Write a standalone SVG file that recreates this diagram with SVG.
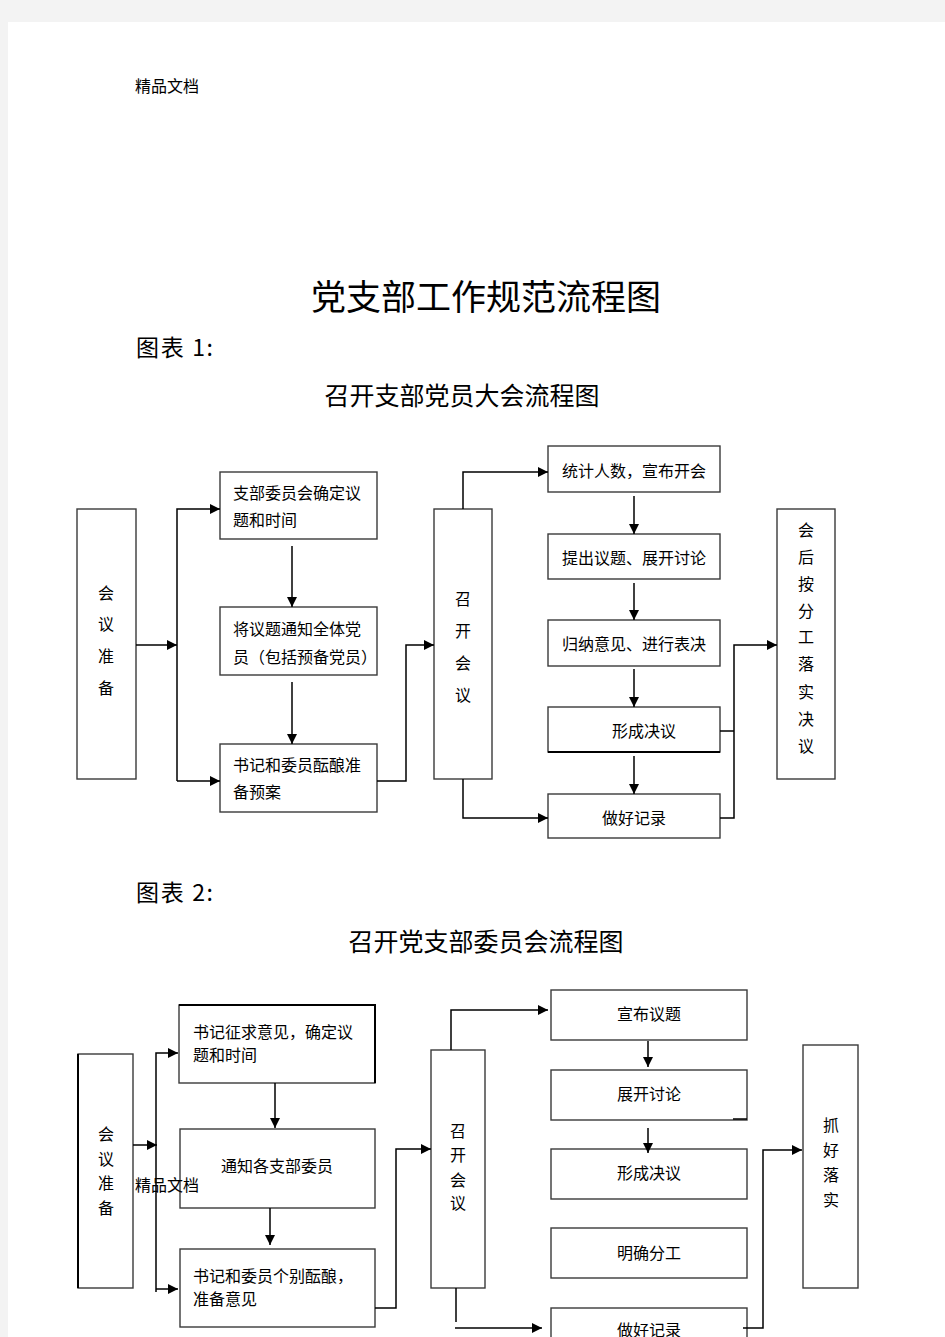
<svg xmlns="http://www.w3.org/2000/svg" width="945" height="1337" viewBox="0 0 945 1337">
<defs>
<style>
.bx{fill:#fff;stroke:#3a3a3a;stroke-width:1.4}
.t{font-family:"Noto Sans CJK SC","Noto Sans CJK JP",sans-serif;font-size:16px;fill:#000}
.c{text-anchor:middle}
.h{font-family:"Noto Sans CJK SC",serif;fill:#000}
.ln{fill:none;stroke:#000;stroke-width:1.5}
</style>
<marker id="ar" markerUnits="userSpaceOnUse" markerWidth="11" markerHeight="10" refX="10" refY="5" orient="auto">
<path d="M0,0 L10,5 L0,10 z" fill="#000"/>
</marker>
</defs>
<rect x="0" y="0" width="945" height="1337" fill="#f3f3f3"/>
<rect x="8" y="22" width="937" height="1315" fill="#fff"/>

<text class="t" x="135" y="92">精品文档</text>
<text class="h" x="486" y="310" font-size="35" text-anchor="middle">党支部工作规范流程图</text>
<text class="h" x="136" y="356" font-size="23" textLength="77" lengthAdjust="spacing">图表 1:</text>
<text class="h" x="462" y="405" font-size="25" text-anchor="middle">召开支部党员大会流程图</text>
<text class="h" x="136" y="901" font-size="23" textLength="77" lengthAdjust="spacing">图表 2:</text>
<text class="h" x="486" y="951" font-size="25" text-anchor="middle">召开党支部委员会流程图</text>

<!-- Diagram 1 nodes -->
<g id="d1-prep"><rect class="bx" x="77" y="509" width="59" height="270"/>
<text class="t c" x="106" y="599">会</text><text class="t c" x="106" y="630">议</text><text class="t c" x="106" y="662">准</text><text class="t c" x="106" y="694">备</text></g>
<g id="d1-a"><rect class="bx" x="220" y="472" width="157" height="67"/>
<text class="t" x="233" y="499">支部委员会确定议</text><text class="t" x="233" y="526">题和时间</text></g>
<g id="d1-b"><rect class="bx" x="220" y="607" width="157" height="68"/>
<text class="t" x="233" y="635">将议题通知全体党</text><text class="t" x="233" y="663">员（包括预备党员）</text></g>
<g id="d1-c"><rect class="bx" x="220" y="744" width="157" height="68"/>
<text class="t" x="233" y="771">书记和委员酝酿准</text><text class="t" x="233" y="798">备预案</text></g>
<g id="d1-hold"><rect class="bx" x="434" y="509" width="58" height="270"/>
<text class="t c" x="463" y="605">召</text><text class="t c" x="463" y="637">开</text><text class="t c" x="463" y="669">会</text><text class="t c" x="463" y="701">议</text></g>
<g id="d1-s1"><rect class="bx" x="548" y="446" width="172" height="46"/><text class="t c" x="634" y="477">统计人数，宣布开会</text></g>
<g id="d1-s2"><rect class="bx" x="548" y="534" width="172" height="45"/><text class="t c" x="634" y="564">提出议题、展开讨论</text></g>
<g id="d1-s3"><rect class="bx" x="548" y="620" width="172" height="46"/><text class="t c" x="634" y="650">归纳意见、进行表决</text></g>
<g id="d1-s4"><rect class="bx" x="548" y="707" width="172" height="45"/><line x1="548" y1="752" x2="720" y2="752" stroke="#000" stroke-width="2"/><text class="t c" x="644" y="737">形成决议</text></g>
<g id="d1-s5"><rect class="bx" x="548" y="794" width="172" height="44"/><text class="t c" x="634" y="824">做好记录</text></g>
<g id="d1-after"><rect class="bx" x="777" y="509" width="58" height="270"/>
<text class="t c" x="806" y="536">会</text><text class="t c" x="806" y="563">后</text><text class="t c" x="806" y="590">按</text><text class="t c" x="806" y="617">分</text><text class="t c" x="806" y="643">工</text><text class="t c" x="806" y="670">落</text><text class="t c" x="806" y="698">实</text><text class="t c" x="806" y="725">决</text><text class="t c" x="806" y="752">议</text></g>

<!-- Diagram 2 nodes -->
<g id="d2-prep"><rect class="bx" x="78" y="1054" width="55" height="234"/><line x1="78" y1="1054" x2="78" y2="1288" stroke="#000" stroke-width="2"/>
<text class="t c" x="106" y="1140">会</text><text class="t c" x="106" y="1165">议</text><text class="t c" x="106" y="1189">准</text><text class="t c" x="106" y="1214">备</text></g>
<g id="d2-a"><rect class="bx" x="179" y="1005" width="196" height="78"/><path d="M179,1005 H375 V1083" fill="none" stroke="#000" stroke-width="2"/>
<text class="t" x="193" y="1038">书记征求意见，确定议</text><text class="t" x="193" y="1061">题和时间</text></g>
<g id="d2-b"><rect class="bx" x="180" y="1129" width="195" height="79"/><text class="t c" x="277" y="1172">通知各支部委员</text></g>
<g id="d2-c"><rect class="bx" x="180" y="1249" width="195" height="78"/>
<text class="t" x="193" y="1282">书记和委员个别酝酿，</text><text class="t" x="193" y="1305">准备意见</text></g>
<g id="d2-hold"><rect class="bx" x="431" y="1050" width="54" height="238"/>
<text class="t c" x="458" y="1137">召</text><text class="t c" x="458" y="1161">开</text><text class="t c" x="458" y="1186">会</text><text class="t c" x="458" y="1209">议</text></g>
<g id="d2-s1"><rect class="bx" x="551" y="990" width="196" height="50"/><text class="t c" x="649" y="1020">宣布议题</text></g>
<g id="d2-s2"><rect class="bx" x="551" y="1070" width="196" height="50"/><text class="t c" x="649" y="1100">展开讨论</text></g>
<g id="d2-s3"><rect class="bx" x="551" y="1149" width="196" height="50"/><text class="t c" x="649" y="1179">形成决议</text></g>
<g id="d2-s4"><rect class="bx" x="551" y="1228" width="196" height="50"/><text class="t c" x="649" y="1259">明确分工</text></g>
<g id="d2-s5"><rect class="bx" x="551" y="1308" width="196" height="60"/><text class="t c" x="649" y="1336">做好记录</text></g>
<g id="d2-after"><rect class="bx" x="803" y="1045" width="55" height="243"/>
<text class="t c" x="831" y="1131">抓</text><text class="t c" x="831" y="1156">好</text><text class="t c" x="831" y="1181">落</text><text class="t c" x="831" y="1206">实</text></g>

<text class="t" x="135" y="1191">精品文档</text>

<g id="connectors">
<path class="ln" d="M136,645 H177" marker-end="url(#ar)"/>
<path class="ln" d="M177,781 V509 H220" marker-end="url(#ar)"/>
<path class="ln" d="M177,781 H220" marker-end="url(#ar)"/>
<path class="ln" d="M292,546 V607" marker-end="url(#ar)"/>
<path class="ln" d="M292,682 V744" marker-end="url(#ar)"/>
<path class="ln" d="M377,781 H406 V645 H434" marker-end="url(#ar)"/>
<path class="ln" d="M463,509 V472 H548" marker-end="url(#ar)"/>
<path class="ln" d="M463,779 V818 H548" marker-end="url(#ar)"/>
<path class="ln" d="M634,496 V534" marker-end="url(#ar)"/>
<path class="ln" d="M634,583 V620" marker-end="url(#ar)"/>
<path class="ln" d="M634,669 V707" marker-end="url(#ar)"/>
<path class="ln" d="M634,756 V794" marker-end="url(#ar)"/>
<path class="ln" d="M720,731 H734"/>
<path class="ln" d="M720,818 H734 V645 H777" marker-end="url(#ar)"/>

<path class="ln" d="M133,1145 H157" marker-end="url(#ar)"/>
<path class="ln" d="M156,1292 V1053 H178" marker-end="url(#ar)"/>
<path class="ln" d="M156,1289 H178" marker-end="url(#ar)"/>
<path class="ln" d="M275,1083 V1128" marker-end="url(#ar)"/>
<path class="ln" d="M270,1208 V1245" marker-end="url(#ar)"/>
<path class="ln" d="M375,1308 H396 V1149 H431" marker-end="url(#ar)"/>
<path class="ln" d="M451,1050 V1010 H548" marker-end="url(#ar)"/>
<path class="ln" d="M456,1288 V1322"/>
<path class="ln" d="M455,1328 H542" marker-end="url(#ar)"/>
<path class="ln" d="M648,1041 V1067" marker-end="url(#ar)"/>
<path class="ln" d="M648,1128 V1153" marker-end="url(#ar)"/>
<path class="ln" d="M733,1119 H747"/>
<path class="ln" d="M743,1328 H763 V1150 H802" marker-end="url(#ar)"/>
</g>
</svg>
